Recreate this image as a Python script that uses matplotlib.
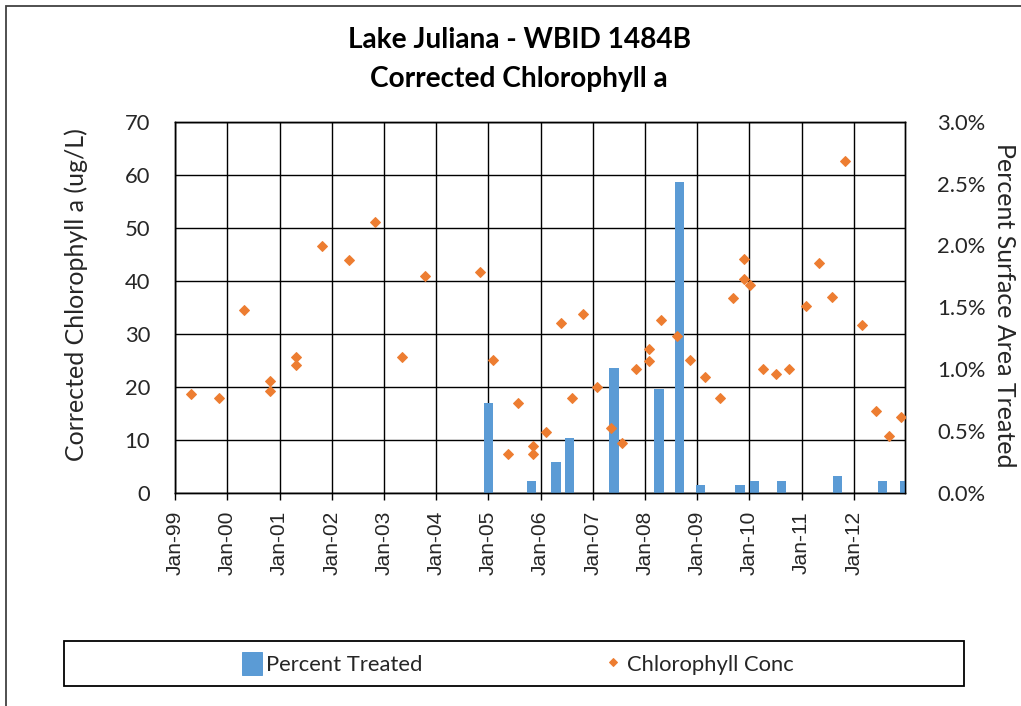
import numpy as np
import matplotlib
matplotlib.use("Agg")
import matplotlib.pyplot as plt
import matplotlib.dates as mdates
from matplotlib.patches import Rectangle, Patch
from matplotlib.lines import Line2D
from matplotlib.ticker import FuncFormatter, MultipleLocator

# ---------------- data ----------------
chl_dates = ["1999-04-20", "1999-11-05", "2000-04-27", "2000-10-26", "2000-10-26",
             "2001-04-25", "2001-04-25", "2001-10-26", "2002-05-01", "2002-10-30",
             "2003-05-05", "2003-10-19", "2004-11-02", "2005-01-30", "2005-05-19",
             "2005-07-24", "2005-11-06", "2005-11-06", "2006-02-07", "2006-05-21",
             "2006-08-08", "2006-10-26", "2007-02-03", "2007-05-07", "2007-07-28",
             "2007-10-27", "2008-01-26", "2008-01-26", "2008-04-23", "2008-08-09",
             "2008-11-10", "2009-02-23", "2009-06-08", "2009-09-05", "2009-11-24",
             "2009-11-24", "2010-01-04", "2010-04-07", "2010-07-05", "2010-10-04",
             "2011-01-30", "2011-05-03", "2011-08-02", "2011-10-30", "2012-02-28",
             "2012-06-01", "2012-09-02", "2012-11-29"]
chl_values = [18.6, 17.9, 34.5, 21.1, 19.2,
              25.7, 24.1, 46.5, 44.0, 51.1,
              25.7, 40.9, 41.6, 25.0, 7.3,
              16.9, 8.8, 7.3, 11.5, 32.1,
              17.9, 33.8, 20.0, 12.3, 9.4,
              23.3, 27.1, 24.9, 32.7, 29.6,
              25.0, 21.9, 17.9, 36.7, 44.1,
              40.3, 39.2, 23.3, 22.5, 23.3,
              35.3, 43.4, 37.0, 62.5, 31.6,
              15.4, 10.8, 14.3]

treat_dates = ["2005-01-03", "2005-10-31", "2006-04-19", "2006-07-21", "2007-05-30",
               "2008-04-09", "2008-09-01", "2009-01-23", "2009-10-26", "2010-02-06",
               "2010-08-11", "2011-09-07", "2012-07-20", "2012-12-24"]
treat_pct = [0.73, 0.097, 0.25, 0.445, 1.006,
             0.839, 2.51, 0.068, 0.068, 0.097,
             0.097, 0.137, 0.097, 0.097]

title_lines = ["Lake Juliana - WBID 1484B", "Corrected Chlorophyll a"]
left_label = "Corrected Chlorophyll a (ug/L)"
right_label = "Percent Surface Area Treated"
legend_labels = ["Percent Treated", "Chlorophyll Conc"]
x_start, x_end = "1999-01-01", "2012-12-24"

# ---------------- figure ----------------
W, H = 1021, 706
DPI = 72
fig = plt.figure(figsize=(W / DPI, H / DPI), dpi=DPI)
fig.patch.set_facecolor("white")

BLUE = "#5B9BD5"
ORANGE = "#ED7D31"
LBL = ["Lato", "DejaVu Sans"]
TICKF = ["Liberation Sans", "DejaVu Sans"]

def fx(px):
    return px / W

def fy(py):
    return 1 - py / H

# outer chart frame (only left and top edges visible)
fig.add_artist(Rectangle((fx(6), -0.1), 1.2, fy(6) + 0.1, transform=fig.transFigure,
                         fill=False, edgecolor="#404040", linewidth=1.8))

ax_l, ax_r, ax_t, ax_b = 175, 905, 121.7, 493
ax = fig.add_axes([fx(ax_l), fy(ax_b), fx(ax_r - ax_l), (ax_b - ax_t) / H])
ax2 = ax.twinx()

cd = np.array(chl_dates, dtype="datetime64[D]")
td = np.array(treat_dates, dtype="datetime64[D]")
xmin = np.datetime64(x_start)
xmax = np.datetime64(x_end)

# bars on right axis
ax2.bar(td, treat_pct, width=65, color=BLUE, zorder=2, align="center")
# diamonds (left-axis values) drawn on top
ax2.plot(cd, chl_values, linestyle="none", marker="D", markersize=7,
         color=ORANGE, markeredgecolor=ORANGE, transform=ax.transData, zorder=3,
         clip_on=True)

ax.set_xlim(xmin, xmax)
ax.set_ylim(0, 70)
ax2.set_ylim(0, 3.0)
ax2.set_xlim(xmin, xmax)

ax.yaxis.set_major_locator(MultipleLocator(10))
ax2.yaxis.set_major_locator(MultipleLocator(0.5))
ax2.yaxis.set_major_formatter(FuncFormatter(lambda v, p: f"{v:.1f}%"))

ax.xaxis.set_major_locator(mdates.YearLocator())
ax.xaxis.set_major_formatter(mdates.DateFormatter("%b-%y"))

ax.grid(True, which="major", color="black", linewidth=1.4)
ax.set_axisbelow(True)

for a in (ax, ax2):
    for s in a.spines.values():
        s.set_color("black")
        s.set_linewidth(1.4)

ax.tick_params(axis="y", length=0, pad=25, labelsize=22, labelcolor="#262626")
ax2.tick_params(axis="y", length=0, pad=32, labelsize=22, labelcolor="#262626")
ax.tick_params(axis="x", length=7, width=1.4, direction="out", pad=11,
               labelsize=21, labelcolor="#262626", labelrotation=90)
for lab in ax.get_yticklabels() + ax2.get_yticklabels():
    lab.set_fontfamily(LBL)
for lab in ax.get_xticklabels():
    lab.set_fontfamily(TICKF)

ax.set_ylabel(left_label, fontsize=25, family=LBL, color="#262626", labelpad=36)
ax.yaxis.label.set_y(0.535)
ax2.set_ylabel(right_label, fontsize=25, family=LBL, color="#262626",
               rotation=270, labelpad=30)
ax2.yaxis.label.set_y(0.505)

# title
fig.text(fx(520), fy(40), title_lines[0], ha="center", va="center",
         fontsize=28, fontweight="bold", family=LBL, color="black")
fig.text(fx(519), fy(79), title_lines[1], ha="center", va="center",
         fontsize=28, fontweight="bold", family=LBL, color="black")

# legend box
fig.add_artist(Rectangle((fx(64), fy(686)), fx(964 - 64), (686 - 641) / H,
                         transform=fig.transFigure, fill=False,
                         edgecolor="black", linewidth=1.8))
handles = [Patch(facecolor=BLUE, edgecolor=BLUE),
           Line2D([], [], linestyle="none", marker="D", markersize=6,
                  color=ORANGE)]
leg = fig.legend(handles, legend_labels, loc="center", ncol=2,
                 bbox_to_anchor=(fx(518), fy(663.5)), frameon=False,
                 prop={"family": LBL, "size": 22}, columnspacing=8.2,
                 handlelength=0.9, handletextpad=0.2, handleheight=1.2)
for t in leg.get_texts():
    t.set_color("#262626")

fig.savefig("out.png", dpi=DPI, facecolor="white")
